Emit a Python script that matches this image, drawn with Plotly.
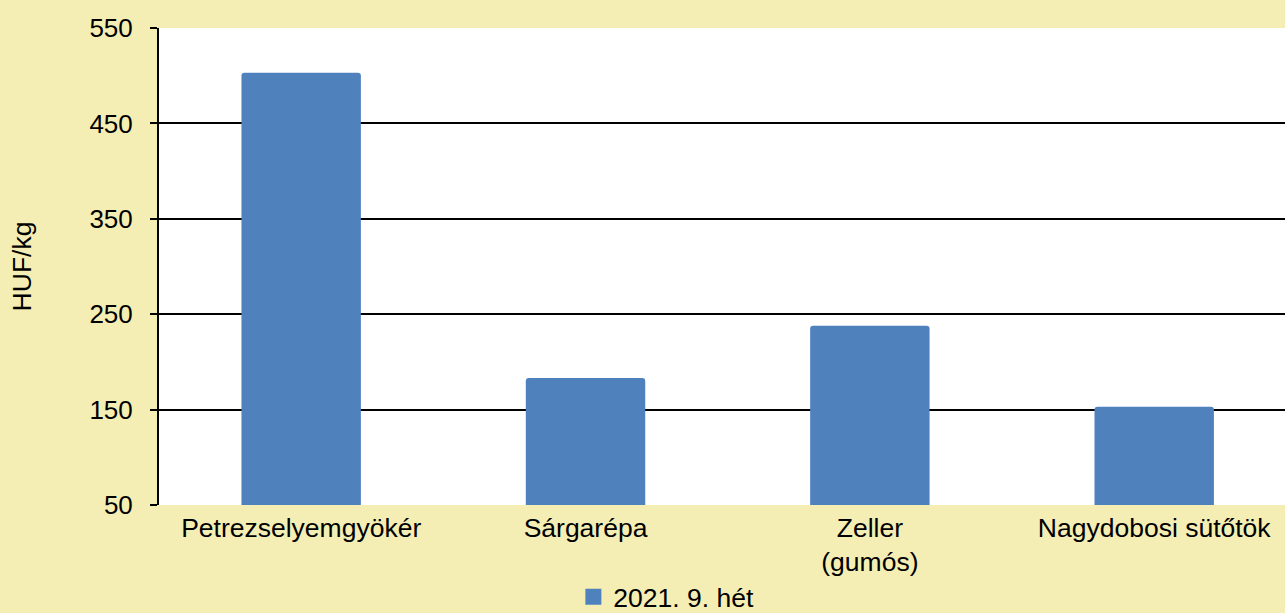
import plotly.graph_objects as go

categories = ["Petrezselyemgyökér", "Sárgarépa", "Zeller<br>(gumós)", "Nagydobosi sütőtök"]
values = [503, 183, 238, 153]
series_name = "2021. 9. hét"
y_ticks = [50, 150, 250, 350, 450, 550]
y_title = "HUF/kg"

BLUE = "#4F81BD"
BG = "#F4EEB4"
FONT = "Liberation Sans, Arial, sans-serif"

fig = go.Figure()
fig.add_trace(go.Bar(
    x=categories, y=values, marker=dict(color=BLUE, cornerradius=3,
    line=dict(width=0)), showlegend=False, name=series_name,
))
fig.add_trace(go.Scatter(
    x=[None], y=[None], mode="markers", name=series_name,
    marker=dict(symbol="square", size=18, color=BLUE),
))

fig.update_layout(
    width=1285, height=613,
    paper_bgcolor=BG, plot_bgcolor="white",
    margin=dict(l=159, r=0, t=28, b=108, autoexpand=False),
    bargap=0.58,
    font=dict(family=FONT, size=26.5, color="black"),
    legend=dict(orientation="h", x=0.368, xanchor="left", y=-0.193, yanchor="middle",
                bgcolor="rgba(0,0,0,0)", font=dict(size=26.5), itemwidth=30),
    showlegend=True,
)
fig.update_xaxes(
    range=[-0.5, 3.46], showgrid=False, showline=False, ticks="",
    tickfont=dict(size=26.5), ticklabelstandoff=4,
)
fig.update_yaxes(
    range=[50, 550], tickvals=y_ticks, showgrid=True, gridcolor="black", gridwidth=2,
    showline=True, linecolor="black", linewidth=2, ticks="outside", ticklen=7,
    tickwidth=2, tickcolor="black", tickfont=dict(size=26), zeroline=False,
    ticklabelstandoff=12,
    title=dict(text=y_title, font=dict(size=26.5), standoff=50),
)

fig.write_html("out.html", config={"displayModeBar": False},
               post_script="document.body.style.margin='0';document.body.style.background='" + BG + "';")
